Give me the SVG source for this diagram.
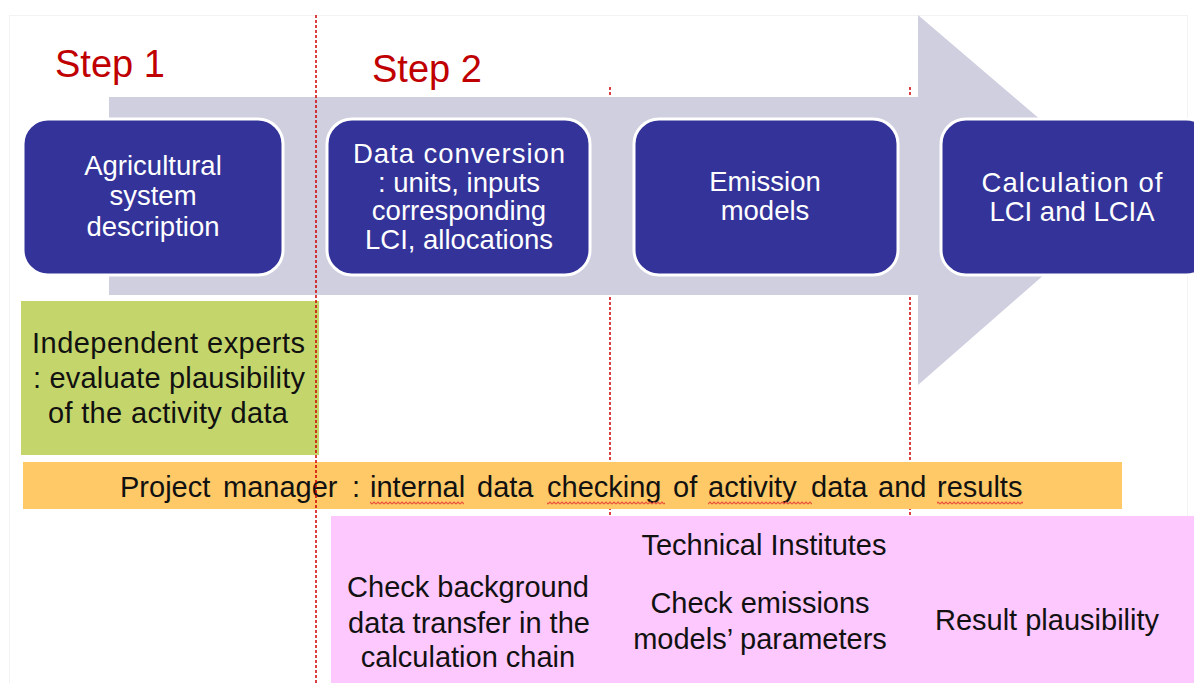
<svg xmlns="http://www.w3.org/2000/svg" width="1194" height="683" viewBox="0 0 1194 683">
  <defs>
    <pattern id="wave" x="0" y="501" width="4" height="4" patternUnits="userSpaceOnUse">
      <path d="M0 3 L2 1 L4 3" fill="none" stroke="#e8503a" stroke-width="1.2"/>
    </pattern>
  </defs>
  <style>
    .t { font-family: "Liberation Sans", Arial, sans-serif; font-size: 29px; }
    .bt { font-family: "Liberation Sans", Arial, sans-serif; font-size: 27.5px; }
    .w { fill: #ffffff; text-anchor: middle; }
    .k { fill: #111111; }
    .c { text-anchor: middle; }
    .step { font-family: "Liberation Sans", Arial, sans-serif; font-size: 38px; fill: #c00000; }
    .box { fill: #333399; stroke: #ffffff; stroke-width: 3; }
    .dash { stroke: #d00000; stroke-width: 1.5; stroke-dasharray: 3 2; fill: none; }
    .sq { fill: url(#wave); }
  </style>
  <rect x="0" y="0" width="1194" height="683" fill="#ffffff"/>
  <rect x="9.5" y="15.5" width="1178" height="670" fill="none" stroke="#f3f3f3" stroke-width="1"/>

  <!-- background dashed dividers -->
  <g id="dividers-back">
    <line class="dash" x1="610" y1="87" x2="610" y2="683"/>
    <line class="dash" x1="910" y1="87" x2="910" y2="683"/>
  </g>

  <!-- big arrow -->
  <g id="process-arrow">
    <polygon points="109,97 918,97 918,15 1132,198 918,385 918,295 109,295" fill="#cfcfe0"/>
  </g>

  <g id="step1-label"><text class="step" x="55" y="77">Step 1</text></g>
  <g id="step2-label"><text class="step" x="372" y="82">Step 2</text></g>

  <g id="node-agricultural">
    <rect class="box" x="23" y="119" width="260" height="156" rx="25"/>
    <text class="bt w" x="153" y="175">Agricultural</text>
    <text class="bt w" x="153" y="205">system</text>
    <text class="bt w" x="153" y="236">description</text>
  </g>

  <g id="node-data-conversion">
    <rect class="box" x="327" y="119" width="263" height="156" rx="25"/>
    <text class="bt w" x="459" y="163" textLength="212" lengthAdjust="spacing">Data conversion</text>
    <text class="bt w" x="459" y="192">: units, inputs</text>
    <text class="bt w" x="459" y="220">corresponding</text>
    <text class="bt w" x="459" y="249">LCI, allocations</text>
  </g>

  <g id="node-emission">
    <rect class="box" x="634" y="119" width="264" height="156" rx="25"/>
    <text class="bt w" x="765" y="191">Emission</text>
    <text class="bt w" x="765" y="220">models</text>
  </g>

  <g id="node-calculation">
    <rect class="box" x="941" y="119" width="270" height="156" rx="25"/>
    <text class="bt w" x="1072" y="192" textLength="181" lengthAdjust="spacing">Calculation  of</text>
    <text class="bt w" x="1072" y="221">LCI and LCIA</text>
  </g>

  <g id="node-independent-experts">
    <rect x="21" y="301" width="298" height="154" fill="#c4d66b"/>
    <text class="t k" x="32" y="353" textLength="273" lengthAdjust="spacing">Independent  experts</text>
    <text class="t k" x="33" y="388" textLength="272" lengthAdjust="spacing">: evaluate  plausibility</text>
    <text class="t k" x="48" y="423" textLength="240" lengthAdjust="spacing">of the activity  data</text>
  </g>

  <g id="node-project-manager">
    <rect x="23" y="462" width="1099" height="47" fill="#fec966"/>
    <text class="t k" y="497"><tspan x="120">Project</tspan><tspan x="223">manager</tspan><tspan x="352">:</tspan><tspan x="370">internal</tspan><tspan x="477">data</tspan><tspan x="547">checking</tspan><tspan x="673">of</tspan><tspan x="708">activity</tspan><tspan x="811">data</tspan><tspan x="878">and</tspan><tspan x="937">results</tspan></text>
    <rect class="sq" x="370" y="501" width="94" height="4"/>
    <rect class="sq" x="547" y="501" width="118" height="4"/>
    <rect class="sq" x="708" y="501" width="104" height="4"/>
    <rect class="sq" x="937" y="501" width="86" height="4"/>
  </g>

  <g id="node-technical-institutes">
    <rect x="331" y="516" width="863" height="167" fill="#fdc8fd"/>
    <text class="t k c" x="764" y="555">Technical Institutes</text>
    <text class="t k c" x="468" y="597">Check background</text>
    <text class="t k c" x="469" y="633">data transfer in the</text>
    <text class="t k c" x="468" y="667">calculation  chain</text>
    <text class="t k c" x="760" y="613">Check emissions</text>
    <text class="t k c" x="760" y="649">models’ parameters</text>
    <text class="t k c" x="1047" y="630">Result plausibility</text>
  </g>

  <!-- foreground dashed divider -->
  <g id="dividers-front">
    <line class="dash" x1="316" y1="15" x2="316" y2="683"/>
  </g>
</svg>
